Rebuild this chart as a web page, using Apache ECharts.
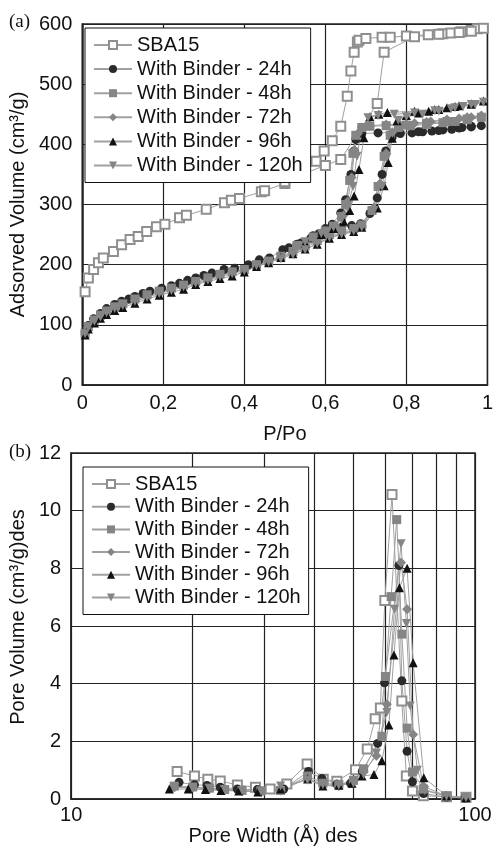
<!DOCTYPE html>
<html>
<head>
<meta charset="utf-8">
<script src="https://cdn.jsdelivr.net/npm/echarts@6/dist/echarts.min.js"></script>
<style>
html,body{margin:0;padding:0;background:#fff;}
#chart{width:496px;height:847px;}
</style>
</head>
<body>
<div id="chart"></div>
<script>
// ---------- Data ----------
const seriesNames = ['SBA15', 'With Binder - 24h', 'With Binder - 48h', 'With Binder - 72h', 'With Binder - 96h', 'With Binder - 120h'];

// (a) isotherms: [P/Po, adsorbed volume], adsorption then desorption
const isoSBA15 = [[0.007,155],[0.015,178],[0.028,192],[0.04,203],[0.052,211],[0.077,222],[0.097,233],[0.118,242],[0.138,247],[0.159,255],[0.183,263],[0.204,267],[0.24,278],[0.257,282],[0.306,292],[0.351,303],[0.368,307],[0.388,310],[0.442,321],[0.45,323],[0.5,335],[0.55,352],[0.577,372],[0.597,389],[0.617,406],[0.638,430],[0.654,480],[0.663,522],[0.671,553],[0.679,570],[0.683,573],[0.70,576],[0.74,578],[0.76,578],[0.80,580],[0.854,582],[0.89,584],[0.91,585],[0.935,587],[0.96,589],[0.975,592],[0.99,593],
  [0.96,588],[0.93,586],[0.88,583],[0.82,579],[0.745,553],[0.728,468],[0.638,375],[0.60,365],[0.55,352],[0.50,338]];
const iso24 = [[0.007,88],[0.015,99],[0.028,110],[0.045,119],[0.06,127],[0.08,134],[0.097,139],[0.115,143],[0.13,147],[0.15,152],[0.167,156],[0.196,161],[0.22,165],[0.24,169],[0.26,174],[0.28,178],[0.3,182],[0.32,186],[0.35,192],[0.376,194],[0.41,200],[0.437,208],[0.462,211],[0.495,225],[0.51,228],[0.54,236],[0.564,244],[0.585,252],[0.61,258],[0.64,262],[0.665,265],[0.687,268],[0.71,285],[0.728,311],[0.74,350],[0.749,389],[0.765,412],[0.785,418],[0.814,419],[0.84,421],[0.863,422],[0.89,424],[0.912,425],[0.937,428],[0.96,429],[0.985,431],
  [0.96,430],[0.93,427],[0.88,423],[0.83,421],[0.78,420],[0.73,419],[0.69,418],[0.675,408],[0.671,389],[0.663,350],[0.65,308],[0.638,286],[0.617,267],[0.6,260],[0.57,248],[0.53,234]];
const iso48 = [[0.007,86],[0.015,97],[0.03,108],[0.045,116],[0.06,123],[0.08,130],[0.1,135],[0.13,143],[0.16,150],[0.19,156],[0.22,161],[0.25,166],[0.28,172],[0.31,178],[0.34,184],[0.37,188],[0.4,192],[0.43,200],[0.46,206],[0.49,214],[0.52,222],[0.55,231],[0.58,240],[0.61,250],[0.64,256],[0.67,260],[0.69,266],[0.715,290],[0.73,330],[0.745,380],[0.76,415],[0.78,428],[0.81,431],[0.85,433],[0.89,436],[0.92,438],[0.95,441],[0.985,445],
  [0.95,442],[0.9,438],[0.85,435],[0.8,432],[0.75,431],[0.71,430],[0.69,428],[0.675,415],[0.668,385],[0.66,340],[0.65,300],[0.64,280],[0.62,264],[0.6,256],[0.57,246],[0.53,232]];
const iso72 = [[0.007,84],[0.015,95],[0.03,106],[0.045,114],[0.06,121],[0.08,128],[0.1,134],[0.13,141],[0.16,148],[0.19,154],[0.22,159],[0.25,165],[0.28,170],[0.31,176],[0.34,182],[0.37,187],[0.4,191],[0.43,199],[0.46,205],[0.49,212],[0.52,220],[0.55,228],[0.58,238],[0.61,247],[0.64,253],[0.67,257],[0.69,264],[0.72,295],[0.735,335],[0.75,385],[0.765,420],[0.785,432],[0.82,435],[0.86,438],[0.9,441],[0.93,443],[0.96,445],[0.985,448],
  [0.95,445],[0.9,441],[0.85,437],[0.8,434],[0.75,433],[0.71,431],[0.69,428],[0.68,418],[0.672,390],[0.665,345],[0.655,305],[0.645,282],[0.625,265],[0.6,255],[0.57,245],[0.53,230]];
const iso96 = [[0.007,83],[0.015,93],[0.03,103],[0.045,111],[0.06,117],[0.08,124],[0.1,129],[0.13,136],[0.16,143],[0.19,149],[0.22,154],[0.25,159],[0.28,167],[0.31,172],[0.34,177],[0.37,181],[0.4,188],[0.43,197],[0.46,203],[0.49,212],[0.52,218],[0.55,226],[0.58,234],[0.61,244],[0.64,250],[0.67,255],[0.69,262],[0.728,294],[0.745,331],[0.755,370],[0.765,410],[0.777,439],[0.8,448],[0.83,452],[0.855,455],[0.88,458],[0.9,461],[0.93,464],[0.96,467],[0.99,472],
  [0.96,467],[0.92,463],[0.87,458],[0.82,455],[0.753,453],[0.732,450],[0.71,446],[0.695,411],[0.683,358],[0.671,314],[0.66,290],[0.645,272],[0.62,260],[0.59,250],[0.55,236]];
const iso120 = [[0.007,85],[0.015,96],[0.03,106],[0.045,113],[0.06,120],[0.08,127],[0.1,132],[0.13,139],[0.16,146],[0.19,152],[0.22,157],[0.25,163],[0.28,169],[0.31,174],[0.34,180],[0.37,185],[0.4,190],[0.43,198],[0.46,204],[0.49,210],[0.52,217],[0.55,225],[0.58,235],[0.61,245],[0.64,251],[0.67,256],[0.69,262],[0.72,290],[0.74,330],[0.752,378],[0.765,418],[0.78,440],[0.8,446],[0.84,450],[0.88,455],[0.91,459],[0.94,463],[0.97,466],[0.99,470],
  [0.96,466],[0.92,461],[0.87,456],[0.82,452],[0.77,450],[0.73,448],[0.705,444],[0.69,425],[0.678,380],[0.668,330],[0.655,295],[0.64,275],[0.62,262],[0.59,252],[0.55,238]];

// (b) pore size distributions: [pore width (Å), pore volume]
const psdSBA15 = [[18.3,0.96],[20.2,0.80],[21.8,0.69],[23.4,0.63],[25.8,0.49],[28.6,0.41],[31.1,0.35],[34.2,0.52],[38.4,1.22],[42.1,0.69],[45.5,0.62],[50.6,1.02],[54.1,1.74],[56.6,2.79],[58.3,3.16],[59.8,6.89],[62.3,10.56],[65.9,3.40],[67.6,0.80],[70,0.28],[74.5,0.12],[85,0.08],[95,0.06]];
const psd24 = [[18.5,0.58],[20.2,0.50],[21.7,0.47],[23.4,0.41],[25.8,0.35],[28.9,0.33],[33.6,0.35],[38.7,0.96],[41.8,0.71],[45.5,0.52],[49.2,0.55],[52.6,0.96],[57.4,1.93],[59.7,4.03],[64.8,8.1],[65.9,4.1],[67.9,1.66],[70,0.60],[74.6,0.19],[85,0.07],[94.5,0.04]];
const psd48 = [[18,0.45],[20,0.42],[22,0.38],[24,0.33],[26.5,0.30],[29.5,0.28],[33,0.30],[38.5,0.80],[42,0.55],[46,0.50],[50,0.65],[53,1.05],[58.8,2.18],[60,4.25],[62,7.02],[64,9.69],[65.9,5.72],[67.9,2.46],[70,0.94],[74.5,0.35],[85,0.10],[95,0.05]];
const psd72 = [[18,0.40],[20,0.40],[22,0.35],[24,0.32],[26.5,0.28],[29.5,0.27],[33,0.30],[38.5,0.72],[42,0.50],[46,0.45],[50,0.60],[53,0.95],[57,1.5],[60.5,3.29],[65.6,8.2],[67.9,6.58],[70.3,2.24],[74.5,0.45],[85,0.10],[95,0.05]];
const psd96 = [[17.5,0.35],[19.5,0.35],[21.5,0.33],[23.5,0.30],[26,0.28],[29,0.25],[33,0.35],[38.5,0.70],[42,0.45],[46,0.48],[49.6,0.55],[52.5,0.80],[56.2,0.85],[58.8,1.33],[61.2,2.57],[63,5.0],[65,7.33],[67.9,8.0],[70.3,4.73],[74.7,0.74],[85,0.12],[95,0.05]];
const psd120 = [[18,0.42],[20,0.40],[22,0.37],[24,0.33],[26.5,0.30],[29.5,0.28],[33,0.45],[38.5,0.65],[42,0.50],[46,0.48],[50,0.55],[53,0.85],[57,1.6],[60.5,3.0],[63.2,6.58],[65.6,8.85],[67.6,6.09],[69.1,3.23],[72,1.0],[75,0.30],[85,0.10],[95,0.05]];

// Tick labels
const xTicksA = ['0', '0,2', '0,4', '0,6', '0,8', '1'];
const logMinorGrid = [20, 30, 40, 50, 60, 70, 80, 90];

// ---------- Styles ----------
const FONT = '"Liberation Sans", Arial, sans-serif';
const styles = [
  {symbol: 'emptyRect', color: '#8f8f8f', size: 9, rotate: 0},
  {symbol: 'circle', color: '#2a2a2a', size: 9, rotate: 0},
  {symbol: 'rect', color: '#858585', size: 9, rotate: 0},
  {symbol: 'diamond', color: '#858585', size: 10, rotate: 0},
  {symbol: 'triangle', color: '#111111', size: 9, rotate: 0},
  {symbol: 'triangle', color: '#858585', size: 9, rotate: 180}
];
const isoData = [isoSBA15, iso24, iso48, iso72, iso96, iso120];
const psdData = [psdSBA15, psd24, psd48, psd72, psd96, psd120];

function mkSeries(i, data, axisIdx) {
  const s = styles[i];
  const itemStyle = {color: s.color};
  if (i === 0) itemStyle.borderWidth = 1.1;
  return {
    name: seriesNames[i],
    type: 'line',
    xAxisIndex: axisIdx, yAxisIndex: axisIdx,
    data: data,
    symbol: s.symbol,
    symbolSize: s.size,
    symbolRotate: s.rotate,
    showAllSymbol: true,
    lineStyle: {color: '#a0a0a0', width: 1},
    itemStyle: itemStyle,
    emphasis: {disabled: true},
    z: 3
  };
}

const series = [];
for (let i = 0; i < 6; i++) series.push(mkSeries(i, isoData[i], 0));
for (let i = 0; i < 6; i++) series.push(mkSeries(i, psdData[i], 1));
// vertical log grid lines for panel (b)
series[6].markLine = {
  silent: true, symbol: 'none', label: {show: false},
  lineStyle: {color: '#222', width: 1.2, type: 'solid'},
  data: logMinorGrid.map(v => ({xAxis: v})),
  z: 1
};

const axisLabel = {color: '#111', fontFamily: FONT, fontSize: 20};
const gridLine = {show: true, lineStyle: {color: '#222', width: 1.2}};
const axisLine = {show: true, lineStyle: {color: '#222', width: 1.5}};
const nameStyle = {color: '#111', fontFamily: FONT, fontSize: 20};

function legendCfg(left, top, gap, pad) {
  return {
    left: left, top: top,
    orient: 'vertical',
    data: seriesNames,
    backgroundColor: '#fff',
    borderColor: '#111',
    borderWidth: 1,
    padding: [pad, 8, pad, 8],
    itemWidth: 38,
    itemHeight: 10,
    itemGap: gap,
    textStyle: {color: '#111', fontFamily: FONT, fontSize: 20},
    selectedMode: false,
    z: 10
  };
}

const option = {
  animation: false,
  backgroundColor: '#fff',
  grid: [
    {left: 82, top: 24, width: 407, height: 361, show: true, borderColor: '#222', borderWidth: 1.5, backgroundColor: 'transparent'},
    {left: 70, top: 453, width: 405, height: 361, show: true, borderColor: '#222', borderWidth: 1.5, backgroundColor: 'transparent'}
  ],
  xAxis: [
    {type: 'value', gridIndex: 0, min: 0, max: 1, interval: 0.2,
      axisLine: axisLine, axisTick: {show: false}, splitLine: gridLine,
      axisLabel: Object.assign({margin: 8, formatter: v => xTicksA[Math.round(v / 0.2)]}, axisLabel),
      name: 'P/Po', nameLocation: 'middle', nameGap: 39, nameTextStyle: nameStyle},
    {type: 'log', gridIndex: 1, min: 10, max: 100, logBase: 10,
      axisLine: axisLine, axisTick: {show: false}, splitLine: gridLine,
      axisLabel: Object.assign({margin: 6}, axisLabel),
      name: 'Pore Width (Å) des', nameLocation: 'middle', nameGap: 17, nameTextStyle: nameStyle}
  ],
  yAxis: [
    {type: 'value', gridIndex: 0, min: 0, max: 600, interval: 100,
      axisLine: axisLine, axisTick: {show: false}, splitLine: gridLine,
      axisLabel: Object.assign({margin: 10}, axisLabel),
      name: 'Adsorved Volume (cm³/g)', nameLocation: 'middle', nameGap: 53, nameTextStyle: nameStyle},
    {type: 'value', gridIndex: 1, min: 0, max: 12, interval: 2,
      axisLine: axisLine, axisTick: {show: false}, splitLine: gridLine,
      axisLabel: Object.assign({margin: 10}, axisLabel),
      name: 'Pore Volume (cm³/g)des', nameLocation: 'middle', nameGap: 42,
      nameTextStyle: Object.assign({padding: [0, 0, 0, 18]}, nameStyle)}
  ],
  legend: [
    legendCfg(85, 28, 4.1, 7),
    legendCfg(83, 467, 2.7, 7)
  ],
  graphic: [
    {type: 'text', left: 9, top: 13, style: {text: '(a)', font: '19px "Liberation Serif", "DejaVu Serif", serif', fill: '#111'}},
    {type: 'text', left: 9, top: 443, style: {text: '(b)', font: '19px "Liberation Serif", "DejaVu Serif", serif', fill: '#111'}}
  ],
  series: series
};

const chart = echarts.init(document.getElementById('chart'), null, {renderer: 'canvas'});
chart.setOption(option);
</script>
</body>
</html>
